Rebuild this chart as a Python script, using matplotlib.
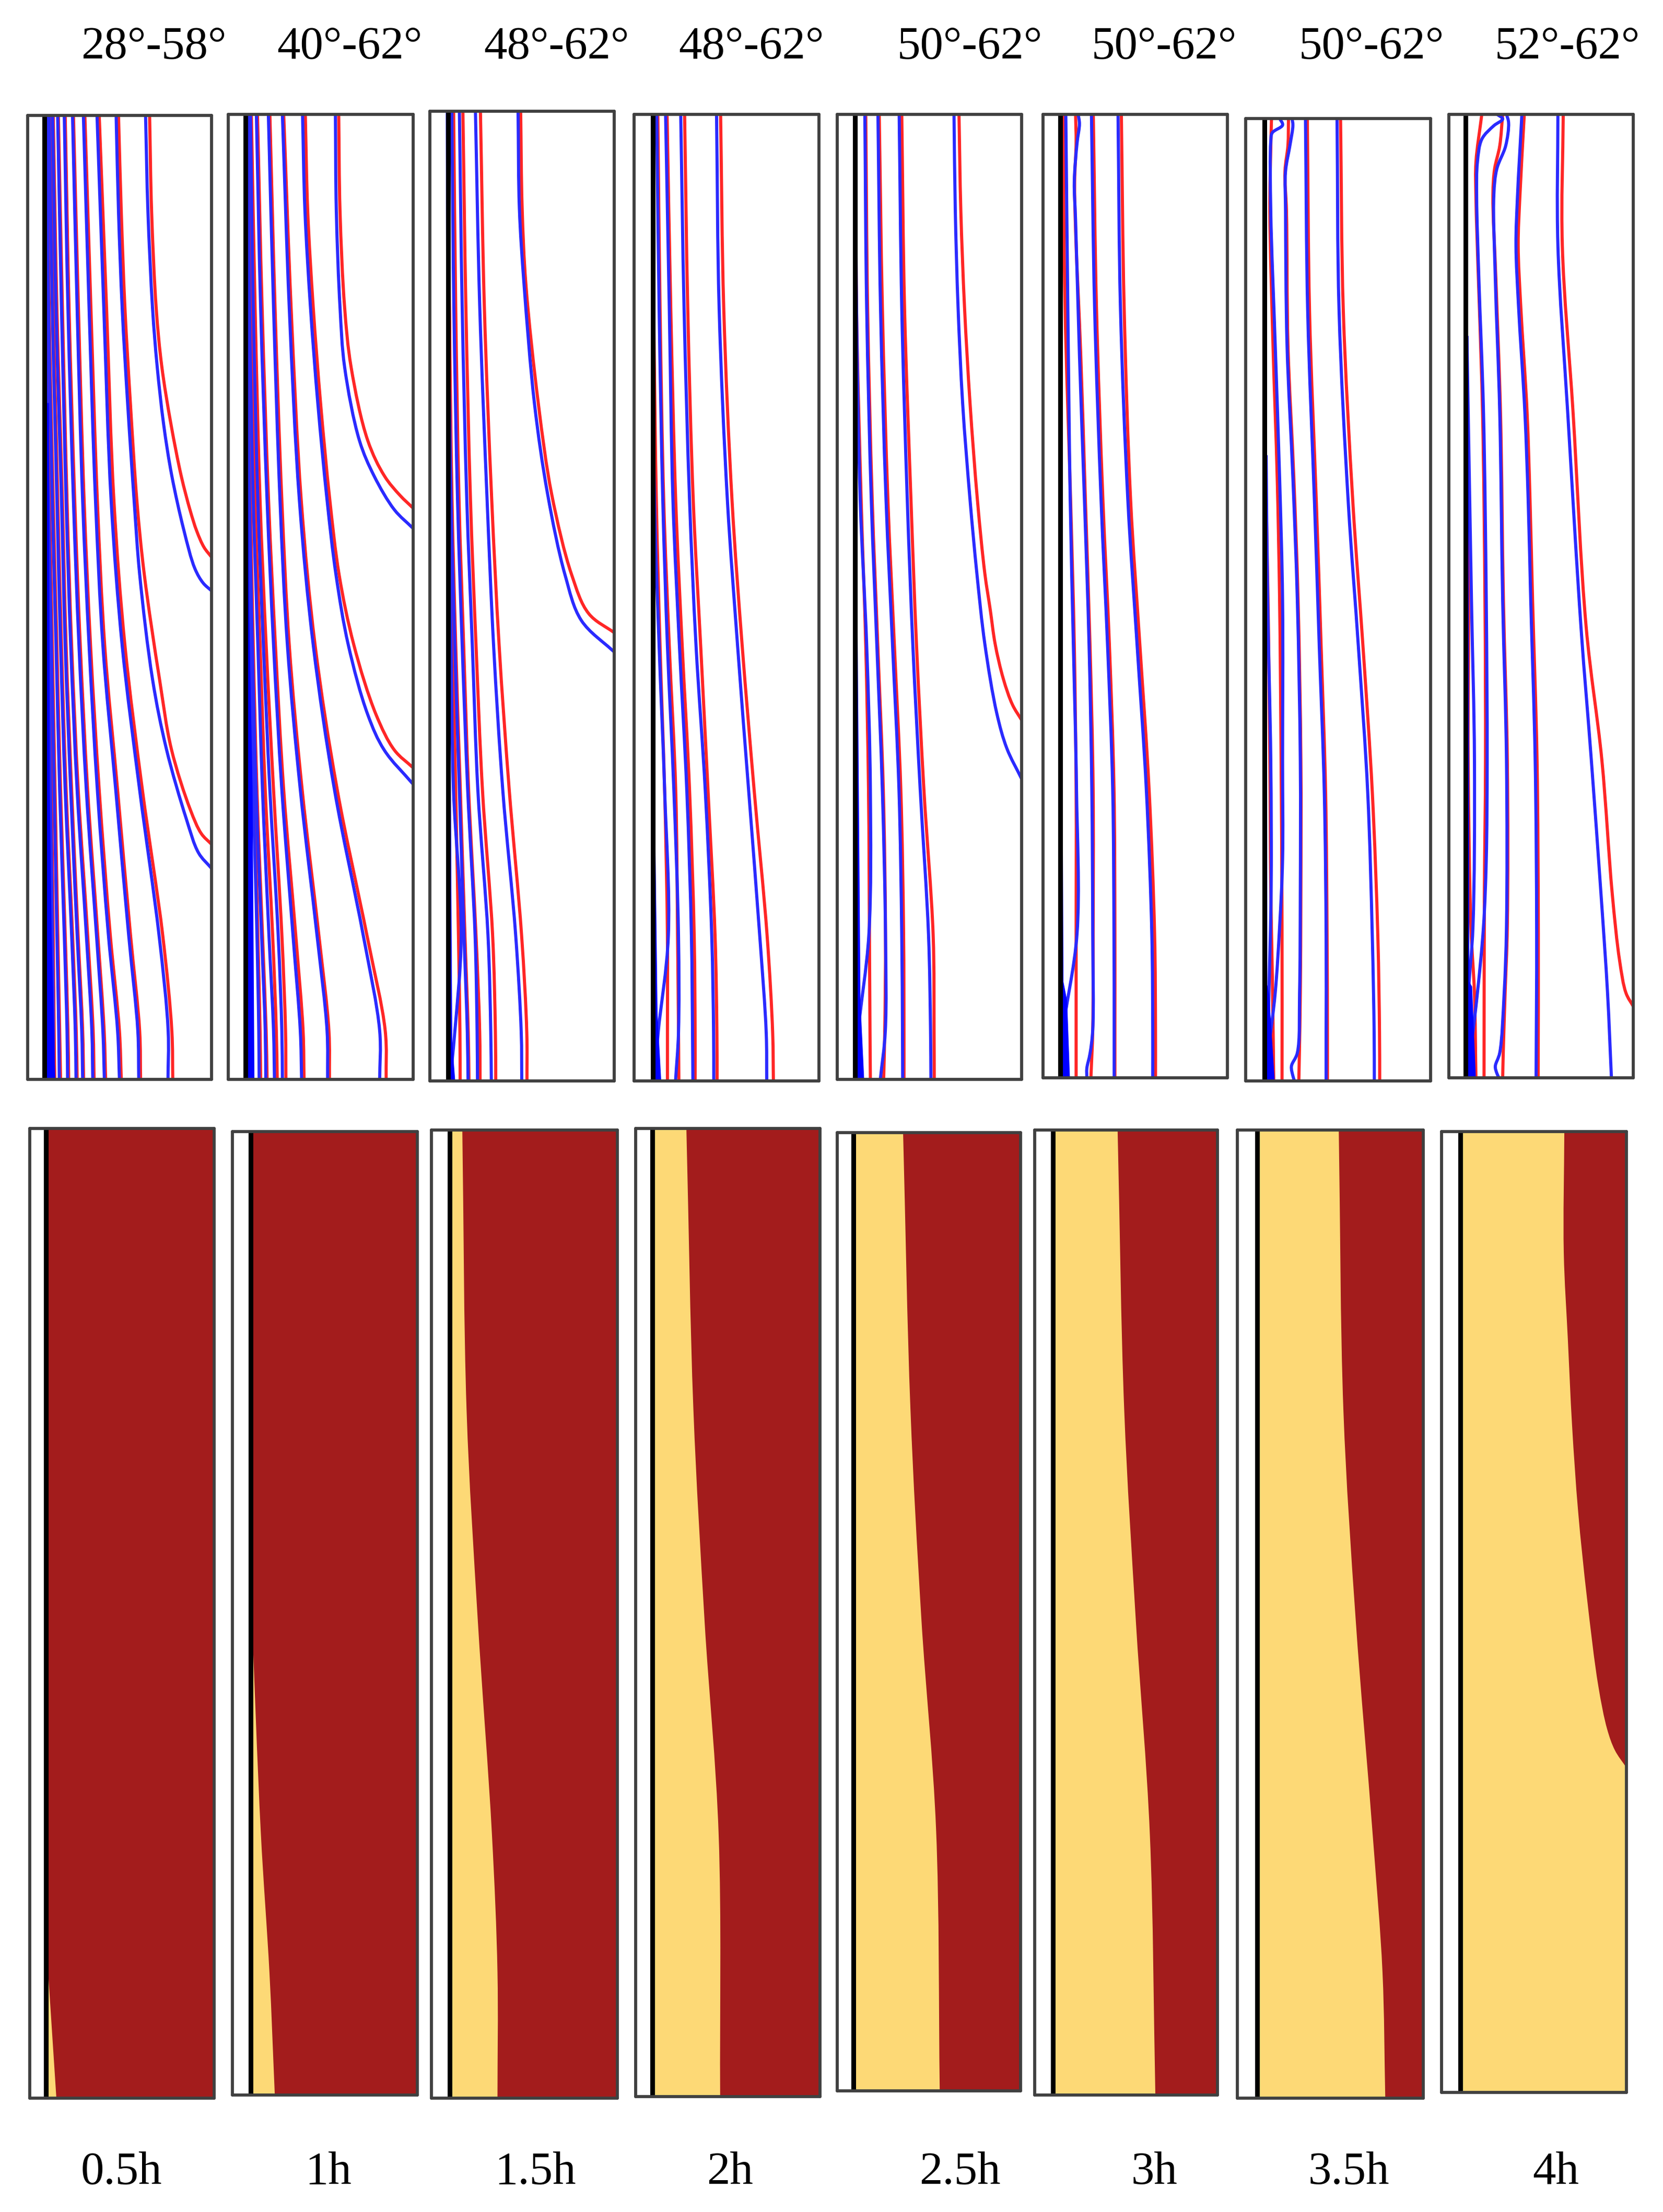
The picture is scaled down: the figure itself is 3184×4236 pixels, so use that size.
import matplotlib
matplotlib.use('Agg')
import matplotlib.pyplot as plt
import numpy as np
from matplotlib.patches import PathPatch
from matplotlib.path import Path

W, H = 3184, 4236
S = W / 1180.0

angle_labels = ['28°-58°', '40°-62°', '48°-62°', '48°-62°', '50°-62°', '50°-62°', '50°-62°', '52°-62°']
time_labels = ['0.5h', '1h', '1.5h', '2h', '2.5h', '3h', '3.5h', '4h']

# depth levels the contour x values were read at (0 = top of panel)
Y = [0, .2, .4, .55, .7, .85, .95, 1]

# 0.5h
blue_05 = [[.378, .415, .455, .515, .61, .715, .765, .764],
           [.304, .335, .37, .41, .48, .55, .60, .605],
           [.245, .27, .30, .335, .38, .44, .49, .50],
           [.2, .22, .25, .28, .32, .375, .41, .418],
           [.164, .185, .21, .235, .27, .32, .35, .355],
           [.136, .155, .185, .205, .235, .27, .295, .30],
           [.118, .135, .16, .18, .205, .24, .26, .264],
           [.105, .115, .135, .155, .175, .2, .215, .218],
           [.095, .10, .115, .13, .145, .16, .17, .173],
           [.09, .095, .105, .115, .125, .135, .14, .14]]
red_05 = [[.39, .43, .47, .53, .625, .735, .785, .79],
          [.312, .345, .38, .42, .49, .56, .61, .615],
          [.25, .277, .308, .343, .39, .45, .5, .51],
          [.205, .226, .257, .287, .327, .382, .417, .425],
          [.168, .19, .215, .24, .276, .327, .357, .362],
          [.14, .16, .19, .21, .24, .275, .3, .305],
          [.122, .14, .165, .185, .21, .245, .265, .27],
          [.108, .118, .14, .16, .18, .205, .22, .224],
          [.098, .104, .12, .135, .15, .165, .175, .18],
          [.092, .098, .11, .12, .13, .14, .145, .148]]
free_blue_05 = [([0, .1, .2, .26, .32, .374, .43, .47, .485, .493], [.642, .655, .68, .705, .74, .785, .85, .91, .955, 1.0]),
                ([0, .1, .2, .3, .4, .476, .585, .657, .73, .765, .781], [.482, .495, .515, .545, .58, .61, .68, .755, .864, .93, 1.0])]
free_red_05 = [([0, .1, .2, .26, .32, .374, .41, .431, .448, .458], [.664, .675, .70, .73, .78, .836, .885, .92, .96, 1.0]),
               ([0, .1, .2, .3, .4, .476, .585, .657, .72, .745, .756], [.495, .51, .53, .56, .595, .635, .718, .782, .885, .945, 1.0])]

# 1h
blue_1 = [[.293, .33, .385, .46, .575, .73, .82, .82],
          [.217, .245, .28, .32, .39, .48, .535, .538],
          [.152, .175, .21, .245, .29, .35, .39, .397],
          [.12, .135, .16, .19, .225, .27, .29, .293],
          [.105, .115, .135, .16, .185, .22, .245, .25],
          [.095, .10, .115, .13, .15, .18, .2, .203],
          [.095, .10, .11, .12, .135, .155, .165, .167]]
red_1 = [[.30, .34, .395, .47, .59, .75, .85, .855],
         [.225, .253, .29, .33, .40, .49, .545, .548],
         [.158, .183, .218, .255, .30, .365, .405, .41],
         [.125, .145, .172, .205, .245, .29, .31, .312],
         [.11, .125, .145, .172, .2, .24, .26, .265],
         [.098, .105, .12, .135, .155, .185, .205, .21],
         [.098, .103, .115, .125, .14, .16, .172, .175]]
free_blue_1 = [([0, .1, .2, .262, .338, .375, .41, .429], [.58, .585, .605, .63, .71, .79, .90, 1.0]),
               ([0, .1, .2, .3, .4, .477, .55, .622, .659, .694], [.402, .415, .445, .485, .535, .583, .65, .755, .845, 1.0])]
free_red_1 = [([0, .1, .2, .262, .338, .375, .395, .408], [.598, .605, .63, .665, .755, .846, .93, 1.0]),
              ([0, .1, .2, .3, .4, .477, .55, .622, .659, .677], [.417, .43, .46, .50, .55, .60, .68, .80, .90, 1.0])]

# 1.5h
blue_15 = [[.247, .27, .31, .345, .395, .465, .495, .498],
           [.16, .175, .20, .23, .26, .315, .33, .333],
           [.119, .13, .15, .175, .205, .245, .256, .258],
           [.095, .10, .115, .135, .16, .185, .203, .207],
           [.095, .097, .105, .115, .128, .17, .135, .11]]
red_15 = [[.274, .295, .335, .375, .43, .497, .525, .526],
          [.179, .195, .22, .25, .285, .34, .355, .357],
          [.129, .14, .158, .183, .21, .25, .27, .272],
          [.10, .106, .12, .14, .165, .19, .208, .212],
          [.10, .105, .115, .125, .14, .155, .163, .164]]
free_blue_15 = [([0, .1, .178, .302, .395, .478, .525, .558], [.478, .485, .51, .567, .638, .732, .82, 1.0])]
free_red_15 = [([0, .1, .178, .302, .395, .478, .518, .538], [.492, .50, .52, .588, .66, .768, .86, 1.0])]

# 2h
blue_2 = [[.446, .46, .505, .56, .62, .68, .715, .718],
          [.252, .27, .30, .335, .385, .42, .43, .431],
          [.17, .19, .21, .245, .285, .31, .316, .318],
          [.122, .135, .155, .18, .215, .24, .24, .224],
          [.098, .10, .11, .135, .165, .185, .13, .11]]
red_2 = [[.468, .485, .53, .585, .65, .72, .75, .754],
         [.273, .29, .32, .36, .40, .438, .448, .449],
         [.178, .198, .225, .26, .30, .325, .33, .33],
         [.128, .14, .16, .19, .225, .235, .24, .242],
         [.102, .106, .12, .14, .165, .18, .18, .18]]
free_blue_2 = []
free_red_2 = []

# 2.5h
blue_25 = [[.336, .35, .38, .41, .45, .495, .506, .508],
           [.221, .235, .265, .30, .335, .35, .354, .355],
           [.15, .16, .185, .215, .245, .262, .261, .234],
           [.10, .105, .125, .16, .18, .172, .115, .105]]
red_25 = [[.35, .365, .40, .43, .47, .52, .525, .526],
          [.228, .245, .275, .31, .345, .36, .362, .362],
          [.155, .165, .19, .22, .25, .262, .258, .252],
          [.10, .105, .13, .155, .17, .175, .178, .18]]
free_blue_25 = [([0, .1, .2, .3, .4, .476, .549, .621, .657, .689], [.633, .64, .655, .68, .72, .757, .80, .865, .919, 1.0])]
free_red_25 = [([0, .1, .2, .3, .4, .476, .513, .549, .585, .612, .628], [.66, .67, .69, .72, .76, .80, .829, .856, .90, .95, 1.0])]

# 3h
blue_3 = [[.407, .42, .46, .51, .56, .59, .595, .595],
          [.263, .28, .315, .35, .378, .385, .386, .386],
          [.124, .135, .148, .165, .182, .185, .11, .095]]
red_3 = [[.425, .44, .475, .525, .575, .605, .61, .61],
         [.273, .29, .325, .36, .385, .39, .39, .39],
         [.109, .12, .15, .17, .18, .18, .18, .18]]
free_blue_3 = [([0, .01, .03, .07, .11, .25, .4, .55, .7, .85, .95, .975, .99, 1], [.191, .198, .185, .17, .177, .198, .225, .25, .265, .27, .27, .255, .238, .238])]
free_red_3 = [([0, .03, .07, .12, .25, .4, .55, .7, .85, .95, 1], [.177, .18, .172, .177, .205, .23, .255, .272, .272, .27, .26])]

# 3.5h
blue_35 = [[.323, .335, .372, .398, .425, .435, .435, .435],
           [.494, .505, .555, .61, .66, .685, .695, .696]]
red_35 = [[.333, .345, .382, .408, .432, .44, .442, .442],
          [.513, .528, .58, .635, .685, .715, .724, .725]]
free_blue_35 = [([0, .007, .015, .024, .097, .235, .374, .501, .667, .77, .84, .909, .961, .99], [.183, .199, .143, .135, .135, .159, .183, .199, .199, .199, .183, .159, .127, .11]),
                ([0, .007, .028, .055, .097, .235, .374, .501, .667, .805, .909, .971, .985, .995, 1], [.25, .255, .239, .215, .215, .223, .255, .279, .295, .295, .291, .279, .247, .255, .263]),
                ([.35, .5, .667, .8, .91, 1], [.11, .118, .135, .137, .125, .115])]
free_red_35 = [([0, .03, .097, .235, .374, .501, .667, .84, 1], [.139, .135, .13, .147, .17, .183, .191, .196, .196]),
               ([0, .028, .055, .097, .235, .374, .501, .667, .805, .909, .971, 1], [.231, .228, .212, .22, .228, .26, .283, .298, .298, .295, .29, .287]),
               ([.35, .5, .667, .8, .91, 1], [.105, .12, .13, .135, .145, .151])]

# 4h
blue_4 = []
red_4 = []
free_blue_4 = [([0, .005, .012, .026, .05, .086, .171, .309, .505, .67, .774, .843, .912, .964, .995], [.26, .292, .244, .179, .155, .151, .163, .188, .203, .208, .203, .188, .155, .123, .10]),
               ([0, .009, .033, .057, .084, .171, .309, .505, .67, .843, .912, .974, .988, .995, 1], [.3125, .324, .308, .26, .244, .252, .276, .292, .3125, .3125, .30, .276, .252, .26, .272]),
               ([0, .086, .136, .2, .309, .4, .505, .67, .85, 1], [.396, .372, .364, .378, .412, .43, .444, .468, .476, .473]),
               ([0, .136, .309, .532, .67, .808, .912, 1], [.591, .591, .644, .716, .772, .824, .86, .881]),
               ([.23, .505, .67, .843, .912, 1], [.098, .123, .139, .131, .107, .10])]
free_red_4 = [([0, .05, .086, .309, .505, .67, .808, 1], [.179, .147, .147, .183, .196, .199, .193, .191]),
              ([0, .033, .057, .084, .171, .309, .505, .67, .843, .912, .974, 1], [.292, .276, .248, .239, .255, .28, .296, .317, .317, .305, .295, .292]),
              ([0, .086, .136, .2, .309, .4, .505, .67, .85, 1], [.409, .385, .376, .39, .424, .44, .454, .478, .485, .484]),
              ([0, .136, .309, .532, .67, .808, .878, .912, .926], [.62, .615, .673, .744, .829, .885, .925, .96, 1.0]),
              ([.3, .505, .67, .843, .912, 1], [.095, .107, .105, .12, .139, .147])]

contour_blue = [blue_05, blue_1, blue_15, blue_2, blue_25, blue_3, blue_35, blue_4]
contour_red = [red_05, red_1, red_15, red_2, red_25, red_3, red_35, red_4]
free_blue = [free_blue_05, free_blue_1, free_blue_15, free_blue_2, free_blue_25, free_blue_3, free_blue_35, free_blue_4]
free_red = [free_red_05, free_red_1, free_red_15, free_red_2, free_red_25, free_red_3, free_red_35, free_red_4]

# wall line position and the solid blue band that grows on it
wall_top = [.091, .094, .10, .10, .097, .093, .10, .091]
wall_bottom = [.09, .099, .098, .09, .09, .10, .106, .10]
band_y = [[.298, .7, .85, 1], [.218, .5, .7, 1], [.305, .8, .96, 1], [.387, .7, .93, 1],
          [.164, .5, .92, 1], [.462, .9, .92, 1], [.349, .9, .91, 1], [.23, .9, .905, 1]]
band_x = [[.115, .12, .13, .15], [.10, .11, .13, .14], [.105, .115, .12, .136], [.105, .11, .125, .145],
          [.10, .108, .125, .145], [.10, .11, .13, .145], [.112, .115, .125, .155], [.105, .11, .125, .145]]

# yellow / dark red boundary in the lower row
front_y = [[.84, 1],
           [.478, .727, .873, 1],
           [0, .29, .506, .727, .87, 1],
           [0, .29, .51, .73, 1],
           [0, .288, .508, .727, 1],
           [0, .29, .51, .73, 1],
           [0, .29, .506, .727, .87, 1],
           [0, .126, .216, .306, .396, .486, .577, .622, .644, .662]]
front_x = [[.09, .145],
           [.099, .153, .20, .229],
           [.167, .19, .25, .326, .356, .356],
           [.275, .313, .374, .45, .458],
           [.36, .40, .46, .54, .56],
           [.454, .49, .554, .63, .66],
           [.545, .57, .636, .727, .78, .795],
           [.664, .661, .683, .706, .739, .787, .848, .896, .938, 1.0]]

# panel frames in picture coordinates: left, right, top, bottom
top_boxes = [(19.5, 150, 82, 766), (162, 293, 81, 766), (305, 436, 79, 767), (450, 581, 81, 767),
             (594, 725, 81, 766), (740, 871, 81, 765), (884, 1015, 84, 767), (1028, 1159, 81, 765)]
low_boxes = [(21, 152, 801, 1489), (165, 296, 803, 1487), (306, 438, 802, 1489), (451, 582, 801, 1488),
             (594, 724, 804, 1484), (734, 864, 802, 1487), (878, 1010, 802, 1489), (1023, 1154, 803, 1485)]
top_label_x = [109, 248, 395, 533, 688, 826, 973, 1112]
low_label_x = [86, 233, 380, 518, 681, 819, 957, 1104]

RED = '#ff2626'
BLUE = '#2a2aff'
YELLOW = '#fdd976'
DARK = '#a31c1c'
FRAME = '#404040'
LW = 4.3
FONT = 'Liberation Serif'


def smooth_segments(xs, ys):
    # centripetal Catmull-Rom through the read points, as Bezier segments for a Path
    p = np.column_stack([xs, ys]).astype(float)
    d = np.hypot(np.diff(p[:, 0]), np.diff(p[:, 1]) * 5.2)
    t = np.concatenate([[0], np.cumsum(np.sqrt(d))])
    dt = np.diff(t)
    m = np.zeros_like(p)
    m[0] = (p[1] - p[0]) / dt[0]
    m[-1] = (p[-1] - p[-2]) / dt[-1]
    for i in range(1, len(p) - 1):
        m[i] = (p[i] - p[i - 1]) / dt[i - 1] - (p[i + 1] - p[i - 1]) / (dt[i - 1] + dt[i]) + (p[i + 1] - p[i]) / dt[i]
    verts = [tuple(p[0])]
    codes = [Path.MOVETO]
    for i in range(len(dt)):
        verts += [tuple(p[i] + m[i] * dt[i] / 3), tuple(p[i + 1] - m[i + 1] * dt[i] / 3), tuple(p[i + 1])]
        codes += [Path.CURVE4] * 3
    return verts, codes


def draw_curve(ax, xs, ys, color):
    verts, codes = smooth_segments(xs, ys)
    ax.add_patch(PathPatch(Path(verts, codes), fill=False, edgecolor=color, lw=LW, capstyle='butt', joinstyle='round'))


def make_axes(fig, box):
    l, r, t, b = box
    ax = fig.add_axes([l * S / W, 1 - b * S / H, (r - l) * S / W, (b - t) * S / H])
    ax.set_xlim(0, 1)
    ax.set_ylim(1, 0)
    ax.set_xticks([])
    ax.set_yticks([])
    for sp in ax.spines.values():
        sp.set_linewidth(4.2)
        sp.set_color(FRAME)
        sp.set_capstyle('round')
    return ax


fig = plt.figure(figsize=(W / 100, H / 100), dpi=100, facecolor='white')

for i in range(8):
    ax = make_axes(fig, top_boxes[i])
    ax.plot([wall_top[i], wall_top[i]], [0, 1], color='black', lw=6.5, solid_capstyle='butt')
    for xs in contour_red[i]:
        draw_curve(ax, xs, Y, RED)
    for ys, xs in free_red[i]:
        draw_curve(ax, xs, ys, RED)
    for xs in contour_blue[i]:
        draw_curve(ax, xs, Y, BLUE)
    for ys, xs in free_blue[i]:
        draw_curve(ax, xs, ys, BLUE)
    ax.fill_betweenx(band_y[i], wall_top[i] - .004, band_x[i], color='#0000ff', lw=0)

    ax = make_axes(fig, low_boxes[i])
    wx = wall_bottom[i]
    ax.fill_betweenx([0, 1], wx, 1, color=DARK, lw=0)
    verts, codes = smooth_segments(front_x[i], front_y[i])
    verts = verts + [(front_x[i][-1], 1), (wx, 1), (wx, front_y[i][0]), (wx, front_y[i][0])]
    codes = codes + [Path.LINETO, Path.LINETO, Path.LINETO, Path.CLOSEPOLY]
    ax.add_patch(PathPatch(Path(verts, codes), facecolor=YELLOW, edgecolor='none'))
    ax.plot([wx, wx], [0, 1], color='black', lw=6.5, solid_capstyle='butt')

for x, txt in zip(top_label_x, angle_labels):
    fig.text(x * S / W, 1 - 112 / H, txt, family=FONT, fontsize=64, ha='center', va='baseline')
for x, txt in zip(low_label_x, time_labels):
    fig.text(x * S / W, 1 - 4182 / H, txt, family=FONT, fontsize=64, ha='center', va='baseline')

fig.savefig('out.png', dpi=100)
